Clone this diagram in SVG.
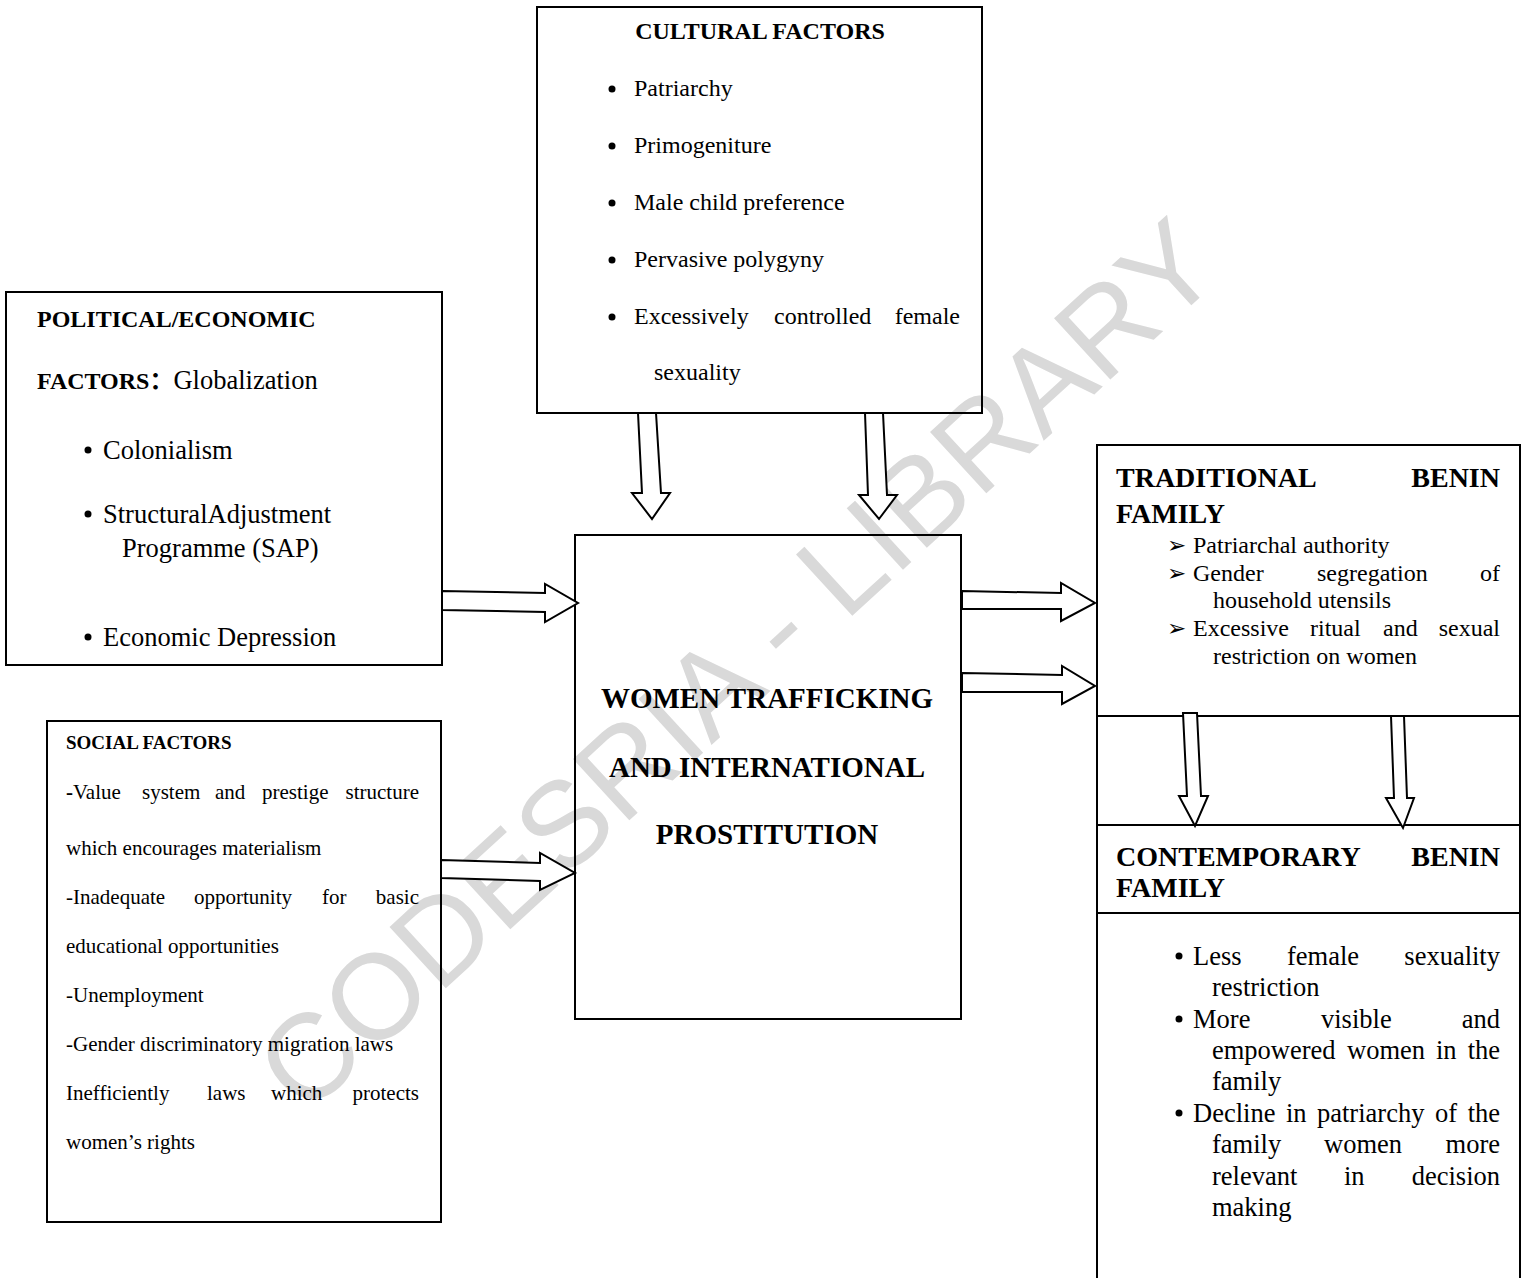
<svg xmlns="http://www.w3.org/2000/svg" width="1523" height="1278" viewBox="0 0 1523 1278">
<style>
.box{fill:none;stroke:#000;stroke-width:2}
.arr{fill:#fff;stroke:#000;stroke-width:2;stroke-linejoin:miter}
text{font-family:"Liberation Serif","Times New Roman","Noto Sans CJK SC",serif;fill:#000}
.b{font-weight:bold}
.t24{font-size:24px}
.t26{font-size:26.5px}
.t21{font-size:21px}
.h28{font-size:28px;font-weight:bold}
.h29{font-size:29px;font-weight:bold}
.wm{font-family:"Liberation Sans",Arial,sans-serif;font-size:121px;fill:#d9d9d9}
.ar{font-family:"DejaVu Sans",sans-serif;font-size:23px}
.e{text-anchor:end}
</style>
<rect width="1523" height="1278" fill="#fff"/>
<text class="wm" x="765" y="696" text-anchor="middle" transform="rotate(-42.5 765 696)">CODESRIA - LIBRARY</text>

<g id="cultural">
<rect class="box" x="537" y="7" width="445" height="406"/>
<text class="t24 b" x="760" y="39" text-anchor="middle">CULTURAL FACTORS</text>
<circle cx="612" cy="89" r="3.5"/><text class="t24" x="634" y="96">Patriarchy</text>
<circle cx="612" cy="146" r="3.5"/><text class="t24" x="634" y="153">Primogeniture</text>
<circle cx="612" cy="203" r="3.5"/><text class="t24" x="634" y="210">Male child preference</text>
<circle cx="612" cy="260" r="3.5"/><text class="t24" x="634" y="267">Pervasive polygyny</text>
<circle cx="612" cy="317" r="3.5"/><text class="t24" x="634" y="324">Excessively</text><text class="t24" x="774" y="324">controlled</text><text class="t24 e" x="960" y="324">female</text>
<text class="t24" x="654" y="380">sexuality</text>
</g>

<g id="political">
<rect class="box" x="6" y="292" width="436" height="373"/>
<text class="t24 b" x="37" y="327">POLITICAL/ECONOMIC</text>
<text class="t26" x="37" y="389"><tspan class="b" font-size="24">FACTORS：</tspan>Globalization</text>
<circle cx="88" cy="450" r="3.5"/><text class="t26" x="103" y="459">Colonialism</text>
<circle cx="88" cy="514" r="3.5"/><text class="t26" x="103" y="523">StructuralAdjustment</text>
<text class="t26" x="122" y="557">Programme (SAP)</text>
<circle cx="88" cy="637" r="3.5"/><text class="t26" x="103" y="646">Economic Depression</text>
</g>

<g id="social">
<rect class="box" x="47" y="721" width="394" height="501"/>
<text class="b" font-size="19" x="66" y="749">SOCIAL FACTORS</text>
<text class="t21" x="66" y="799"><tspan class="b">-</tspan>Value</text><text class="t21" x="142" y="799">system</text><text class="t21" x="215" y="799">and</text><text class="t21" x="262" y="799">prestige</text><text class="t21 e" x="419" y="799">structure</text>
<text class="t21" x="66" y="855">which encourages materialism</text>
<text class="t21" x="66" y="904">-Inadequate</text><text class="t21" x="194" y="904">opportunity</text><text class="t21" x="322" y="904">for</text><text class="t21 e" x="419" y="904">basic</text>
<text class="t21" x="66" y="953">educational opportunities</text>
<text class="t21" x="66" y="1002">-Unemployment</text>
<text class="t21" x="66" y="1051">-Gender discriminatory migration laws</text>
<text class="t21" x="66" y="1100">Inefficiently</text><text class="t21" x="207" y="1100">laws</text><text class="t21" x="271" y="1100">which</text><text class="t21 e" x="419" y="1100">protects</text>
<text class="t21" x="66" y="1149">women’s rights</text>
</g>

<g id="center">
<rect class="box" x="575" y="535" width="386" height="484"/>
<text class="h29" x="767" y="708" text-anchor="middle">WOMEN TRAFFICKING</text>
<text class="h29" x="767" y="777" text-anchor="middle">AND INTERNATIONAL</text>
<text class="h29" x="767" y="844" text-anchor="middle">PROSTITUTION</text>
</g>

<g id="family">
<rect class="box" x="1097" y="445" width="423" height="845"/>
<line class="box" x1="1097" y1="716" x2="1520" y2="716"/>
<line class="box" x1="1097" y1="825" x2="1520" y2="825"/>
<line class="box" x1="1097" y1="913" x2="1520" y2="913"/>
</g>

<g id="traditional">
<text class="h28" x="1116" y="487">TRADITIONAL</text><text class="h28 e" x="1500" y="487">BENIN</text>
<text class="h28" x="1116" y="523">FAMILY</text>
<text class="ar" x="1167" y="553">➢</text><text class="t24" x="1193" y="553">Patriarchal authority</text>
<text class="ar" x="1167" y="581">➢</text><text class="t24" x="1193" y="581">Gender</text><text class="t24" x="1317" y="581">segregation</text><text class="t24 e" x="1500" y="581">of</text>
<text class="t24" x="1213" y="608">household utensils</text>
<text class="ar" x="1167" y="636">➢</text><text class="t24" x="1193" y="636">Excessive</text><text class="t24" x="1310" y="636">ritual</text><text class="t24" x="1383" y="636">and</text><text class="t24 e" x="1500" y="636">sexual</text>
<text class="t24" x="1213" y="664">restriction on women</text>
</g>

<g id="contemporary">
<text class="h28" x="1116" y="866">CONTEMPORARY</text><text class="h28 e" x="1500" y="866">BENIN</text>
<text class="h28" x="1116" y="897">FAMILY</text>
<circle cx="1179" cy="956" r="3.5"/><text class="t26" x="1193" y="965">Less</text><text class="t26" x="1287" y="965">female</text><text class="t26 e" x="1500" y="965">sexuality</text>
<text class="t26" x="1212" y="996">restriction</text>
<circle cx="1179" cy="1019" r="3.5"/><text class="t26" x="1193" y="1028">More</text><text class="t26" x="1321" y="1028">visible</text><text class="t26 e" x="1500" y="1028">and</text>
<text class="t26" x="1212" y="1059">empowered</text><text class="t26" x="1347" y="1059">women</text><text class="t26" x="1436" y="1059">in</text><text class="t26 e" x="1500" y="1059">the</text>
<text class="t26" x="1212" y="1090">family</text>
<circle cx="1179" cy="1113" r="3.5"/><text class="t26" x="1193" y="1122">Decline</text><text class="t26" x="1286" y="1122">in</text><text class="t26" x="1317" y="1122">patriarchy</text><text class="t26" x="1435" y="1122">of</text><text class="t26 e" x="1500" y="1122">the</text>
<text class="t26" x="1212" y="1153">family</text><text class="t26" x="1324" y="1153">women</text><text class="t26 e" x="1500" y="1153">more</text>
<text class="t26" x="1212" y="1185">relevant</text><text class="t26" x="1344" y="1185">in</text><text class="t26 e" x="1500" y="1185">decision</text>
<text class="t26" x="1212" y="1216">making</text>
</g>

<g id="connectors">
<polygon class="arr" points="442,591 545,593 545,584 578,603 545,622 545,612 442,610"/>
<polygon class="arr" points="441,860 540,863 540,853 575,873 540,890 540,881 441,878"/>
<polygon class="arr" points="962,591 1061,593 1061,583 1095,603 1061,621 1061,609 962,609"/>
<polygon class="arr" points="962,673 1062,675 1062,666 1095,686 1062,704 1062,692 962,692"/>
<polygon class="arr" points="638,413 656,413 661,493 670,493 652,519 632,493 642,493"/>
<polygon class="arr" points="865,413 883,413 887,495 897,495 879,519 859,495 868,495"/>
<polygon class="arr" points="1183,713 1197,713 1201,796 1208,796 1195,826 1179,796 1187,796"/>
<polygon class="arr" points="1391,716 1404,716 1407,798 1414,798 1403,828 1386,798 1394,798"/>
</g>
</svg>
